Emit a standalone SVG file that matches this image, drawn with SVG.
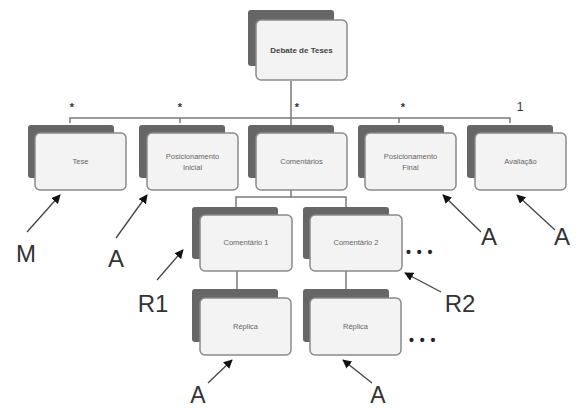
<svg xmlns="http://www.w3.org/2000/svg" width="577" height="410" viewBox="0 0 577 410">
<style>
.bk{fill:#666;}
.fr{fill:#f3f3f3;stroke:#8a8a8a;stroke-width:1.5;}
.t{font-family:"Liberation Sans",Arial,sans-serif;font-size:7.5px;fill:#666;text-anchor:middle;}
.tt{font-family:"Liberation Sans",Arial,sans-serif;font-size:8px;fill:#444;font-weight:bold;text-anchor:middle;}
.c{stroke:#7a7a7a;stroke-width:1.5;fill:none;}
.m{font-family:"Liberation Sans",Arial,sans-serif;font-size:11px;fill:#333;font-weight:bold;text-anchor:middle;}
.L{font-family:"Liberation Sans",Arial,sans-serif;font-size:24px;fill:#333;text-anchor:middle;}
.a{stroke:#444;stroke-width:1.3;fill:none;marker-end:url(#ah);}
.d{font-family:"Liberation Sans",Arial,sans-serif;font-size:14px;fill:#222;font-weight:bold;letter-spacing:1px;}
</style>
<defs>
<marker id="ah" viewBox="0 0 10 10" refX="9" refY="5" markerWidth="9" markerHeight="9" markerUnits="userSpaceOnUse" orient="auto">
<path d="M0,0 L10,5 L0,10 z" fill="#111"/>
</marker>
</defs>
<rect width="577" height="410" fill="#fff"/>
<g id="connectors">
<path class="c" d="M291,81 V118 M70,123 V118 H510 V123 M180,118 V123 M291,118 V125 M399,118 V123"/>
<path class="c" d="M291,188 V197 M236,207 V197 H346 V207"/>
<path class="c" d="M237,271 V289 M346,271 V289"/>
<text class="m" x="72" y="111">*</text>
<text class="m" x="180" y="111">*</text>
<text class="m" x="297" y="111">*</text>
<text class="m" x="403" y="111">*</text>
<text class="m" x="520" y="111" style="font-size:12px;font-weight:normal">1</text>
</g>
<g id="debate">
<rect class="bk" x="248" y="10" width="86" height="56" rx="3"/>
<rect class="fr" x="256" y="20" width="91" height="60" rx="5"/>
<text class="tt" x="301.5" y="53">Debate de Teses</text>
</g>
<g id="tese">
<rect class="bk" x="28" y="125" width="86" height="53" rx="3"/>
<rect class="fr" x="35" y="133" width="91" height="57" rx="5"/>
<text class="t" x="80.5" y="164">Tese</text>
</g>
<g id="pos-inicial">
<rect class="bk" x="139" y="125" width="86" height="53" rx="3"/>
<rect class="fr" x="147" y="133" width="91" height="57" rx="5"/>
<text class="t" x="192.5" y="159">Posicionamento</text>
<text class="t" x="192.5" y="170">Inicial</text>
</g>
<g id="comentarios">
<rect class="bk" x="248" y="125" width="86" height="53" rx="3"/>
<rect class="fr" x="256" y="133" width="91" height="57" rx="5"/>
<text class="t" x="301.5" y="164">Comentários</text>
</g>
<g id="pos-final">
<rect class="bk" x="358" y="125" width="86" height="53" rx="3"/>
<rect class="fr" x="365" y="133" width="91" height="57" rx="5"/>
<text class="t" x="410.5" y="159">Posicionamento</text>
<text class="t" x="410.5" y="170">Final</text>
</g>
<g id="avaliacao">
<rect class="bk" x="467" y="125" width="86" height="53" rx="3"/>
<rect class="fr" x="475" y="133" width="91" height="57" rx="5"/>
<text class="t" x="520.5" y="164">Avaliação</text>
</g>
<g id="comentario1">
<rect class="bk" x="192" y="207" width="86" height="52" rx="3"/>
<rect class="fr" x="200" y="215" width="92" height="56" rx="5"/>
<text class="t" x="246" y="245">Comentário 1</text>
</g>
<g id="comentario2">
<rect class="bk" x="303" y="207" width="86" height="52" rx="3"/>
<rect class="fr" x="310" y="215" width="92" height="56" rx="5"/>
<text class="t" x="356" y="245">Comentário 2</text>
</g>
<g id="replica1">
<rect class="bk" x="192" y="289" width="86" height="53" rx="3"/>
<rect class="fr" x="200" y="298" width="91" height="57" rx="5"/>
<text class="t" x="245.5" y="329">Réplica</text>
</g>
<g id="replica2">
<rect class="bk" x="303" y="289" width="86" height="53" rx="3"/>
<rect class="fr" x="310" y="298" width="91" height="57" rx="5"/>
<text class="t" x="355.5" y="329">Réplica</text>
</g>
<g id="annotations">
<path class="a" d="M27,232 L60,195"/>
<text class="L" x="26" y="262">M</text>
<path class="a" d="M116,238 L147,195"/>
<text class="L" x="116" y="267">A</text>
<path class="a" d="M157,280 L183,250"/>
<text class="L" x="153" y="312">R1</text>
<path class="a" d="M481,232 L443,195"/>
<text class="L" x="489" y="245">A</text>
<path class="a" d="M555,230 L517,195"/>
<text class="L" x="562" y="245">A</text>
<path class="a" d="M441,292 L405,273"/>
<text class="L" x="460" y="312">R2</text>
<path class="a" d="M208,383 L232,360"/>
<text class="L" x="198" y="403" style="font-size:23px">A</text>
<path class="a" d="M372,383 L343,360"/>
<text class="L" x="378" y="403" style="font-size:23px">A</text>
<text class="d" x="406" y="257">• • •</text>
<text class="d" x="409" y="345">• • •</text>
</g>
</svg>
